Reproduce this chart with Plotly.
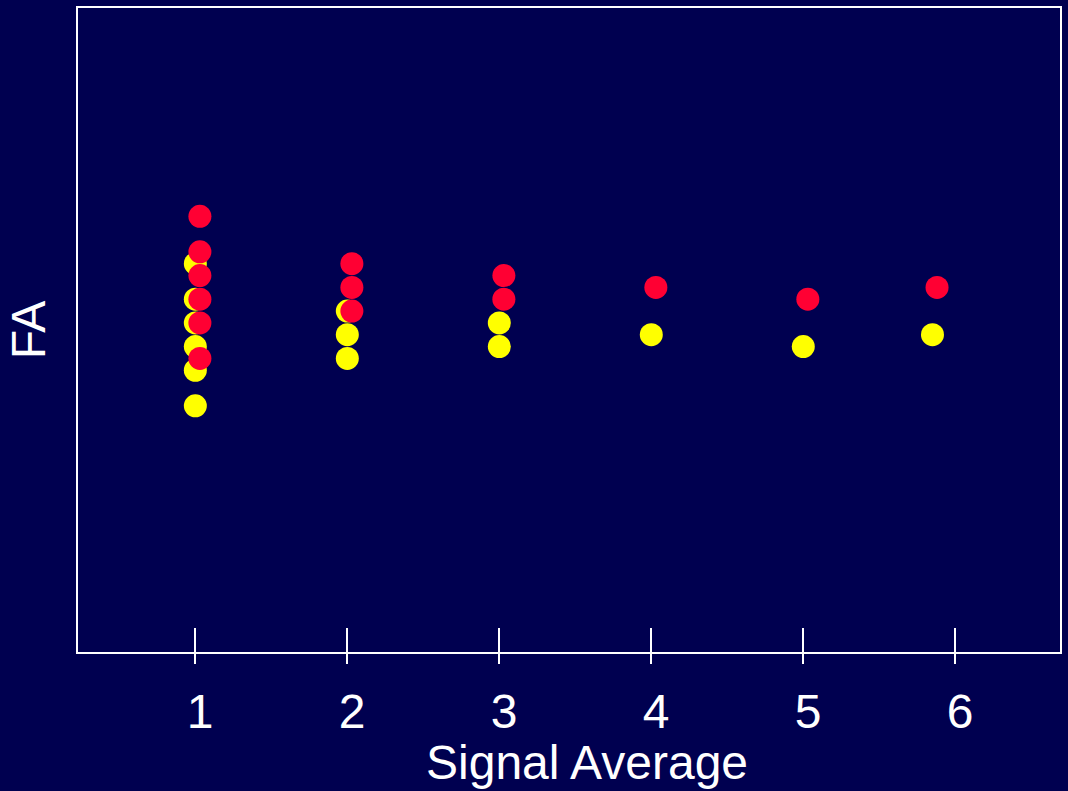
import plotly.graph_objects as go

# Data (FA values; y axis has no tick labels)
yellow_x = [1, 1, 1, 1, 1, 1, 2, 2, 2, 3, 3, 4, 5, 5.85]
yellow_y = [0.360, 0.345, 0.335, 0.325, 0.315, 0.300,
            0.340, 0.330, 0.320, 0.335, 0.325, 0.330, 0.325, 0.330]
red_x = [1.03, 1.03, 1.03, 1.03, 1.03, 1.03, 2.03, 2.03, 2.03, 3.03, 3.03, 4.03, 5.03, 5.88]
red_y = [0.380, 0.365, 0.355, 0.345, 0.335, 0.320,
         0.360, 0.350, 0.340, 0.355, 0.345, 0.350, 0.345, 0.350]
tick_vals = [1, 2, 3, 4, 5, 6]
tick_text = ["1", "2", "3", "4", "5", "6"]

BG = "#000050"
FONT = "Liberation Sans, Arial, sans-serif"
FS = 48
x_range = [0.228, 6.689]
y_range = [0.196, 0.468]

fig = go.Figure()
fig.add_trace(go.Scatter(x=yellow_x, y=yellow_y, mode="markers",
                         marker=dict(color="#FFFF00", size=23, line=dict(width=0)),
                         showlegend=False))
fig.add_trace(go.Scatter(x=red_x, y=red_y, mode="markers",
                         marker=dict(color="#FF0033", size=23, line=dict(width=0)),
                         showlegend=False))
# invisible trace to activate the overlay axis for inside ticks
fig.add_trace(go.Scatter(x=[None], y=[None], xaxis="x2", yaxis="y",
                         showlegend=False, hoverinfo="skip"))

fig.update_layout(
    width=1068, height=791,
    paper_bgcolor=BG, plot_bgcolor=BG,
    margin=dict(l=78, r=6, t=7, b=139),
    font=dict(family=FONT, color="white", size=FS),
    xaxis=dict(range=x_range, tickvals=tick_vals,
               ticktext=["\u2009" + t for t in tick_text],
               ticks="outside", ticklen=10, tickwidth=2, tickcolor="white",
               showline=True, linecolor="white", linewidth=2, mirror=True,
               showgrid=False, zeroline=False,
               tickfont=dict(size=FS, color="white", family=FONT),
               ticklabelstandoff=6),
    xaxis2=dict(range=x_range, overlaying="x", side="bottom", tickvals=tick_vals,
                ticks="inside", ticklen=24, tickwidth=2, tickcolor="white",
                showticklabels=False, showgrid=False, zeroline=False, showline=False),
    yaxis=dict(range=y_range, showticklabels=False, ticks="",
               showline=True, linecolor="white", linewidth=2, mirror=True,
               showgrid=False, zeroline=False,
               title=dict(text="FA", font=dict(size=FS, color="white", family=FONT),
                          standoff=15)),
    annotations=[dict(text="Signal Average", xref="paper", yref="paper",
                      x=0.518, y=-0.172, xanchor="center", yanchor="middle",
                      showarrow=False,
                      font=dict(size=FS, color="white", family=FONT))],
)

fig.write_html("out.html", config={"displayModeBar": False},
               post_script="document.body.style.margin='0';"
                           "document.body.style.background='#000050';")
